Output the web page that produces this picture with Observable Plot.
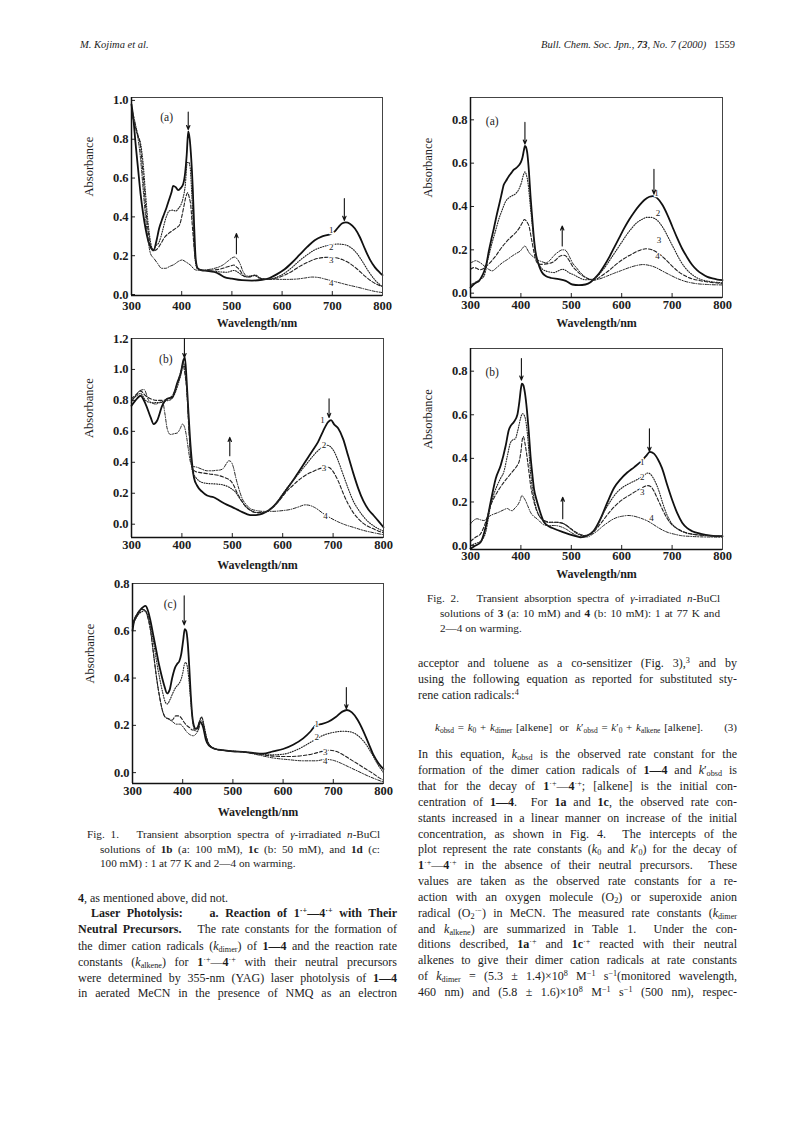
<!DOCTYPE html>
<html><head><meta charset="utf-8">
<script src="https://cdn.jsdelivr.net/npm/d3@7"></script>
<script src="https://cdn.jsdelivr.net/npm/@observablehq/plot@0.6"></script>
<style>
html,body{margin:0;padding:0;background:#fff;}
#page{position:relative;width:793px;height:1123px;overflow:hidden;font-family:"Liberation Serif","Times New Roman",serif;color:#1c1c1c;background:#fff;}
.panel{position:absolute;}
.ln{position:absolute;white-space:nowrap;font-size:12px;line-height:16px;}
.cap{font-size:11.2px;line-height:14px;}
.j{text-align:justify;text-align-last:justify;}
sub,sup{font-size:0.68em;line-height:0;}
sub{vertical-align:-0.3em}
sup{vertical-align:0.5em}
</style>
</head><body>
<div id="page">
<div class="ln" style="left:80px;top:37px;font-size:10.5px;font-style:italic">M. Kojima et al.</div>
<div class="ln" style="right:58px;top:37px;font-size:10.5px"><i>Bull. Chem. Soc. Jpn.</i>, <b><i>73</i></b>, <i>No. 7 (2000)</i>&nbsp;&nbsp;&nbsp;1559</div>

<div id="f1a" class="panel" style="left:60px;top:85px"></div>
<div id="f1b" class="panel" style="left:60px;top:325px"></div>
<div id="f1c" class="panel" style="left:60px;top:570px"></div>
<div id="f2a" class="panel" style="left:400px;top:85px"></div>
<div id="f2b" class="panel" style="left:400px;top:340px"></div>

<!-- Fig. 1 caption -->
<div class="ln cap j" style="left:87px;top:827px;width:293px">Fig. 1.&nbsp;&nbsp; Transient absorption spectra of <i>γ</i>-irradiated <i>n</i>-BuCl</div>
<div class="ln cap j" style="left:100px;top:842px;width:280px">solutions of <b>1b</b> (a: 100 mM), <b>1c</b> (b: 50 mM), and <b>1d</b> (c:</div>
<div class="ln cap" style="left:100px;top:856px">100 mM) : 1 at 77 K and 2—4 on warming.</div>

<!-- left column body -->
<div class="ln" style="left:78px;top:890px"><b>4</b>, as mentioned above, did not.</div>
<div class="ln j" style="left:91px;top:905px;width:306px"><b>Laser Photolysis:&nbsp;&nbsp;&nbsp; a. Reaction of 1<sup>·+</sup>—4<sup>·+</sup> with Their</b></div>
<div class="ln j" style="left:78px;top:921px;width:319px"><b>Neutral Precursors.</b>&nbsp;&nbsp; The rate constants for the formation of</div>
<div class="ln j" style="left:78px;top:938px;width:319px">the dimer cation radicals (<i>k</i><sub>dimer</sub>) of <b>1—4</b> and the reaction rate</div>
<div class="ln j" style="left:78px;top:954px;width:319px">constants (<i>k</i><sub>alkene</sub>) for <b>1</b><sup>·+</sup>—<b>4</b><sup>·+</sup> with their neutral precursors</div>
<div class="ln j" style="left:78px;top:970px;width:319px">were determined by 355-nm (YAG) laser photolysis of <b>1—4</b></div>
<div class="ln j" style="left:78px;top:985px;width:319px">in aerated MeCN in the presence of NMQ as an electron</div>

<!-- Fig. 2 caption -->
<div class="ln cap j" style="left:427px;top:591px;width:293px">Fig. 2.&nbsp;&nbsp; Transient absorption spectra of <i>γ</i>-irradiated <i>n</i>-BuCl</div>
<div class="ln cap j" style="left:440px;top:606px;width:280px">solutions of <b>3</b> (a: 10 mM) and <b>4</b> (b: 10 mM): 1 at 77 K and</div>
<div class="ln cap" style="left:440px;top:621px">2—4 on warming.</div>

<!-- right column body -->
<div class="ln j" style="left:418px;top:655px;width:319px">acceptor and toluene as a co-sensitizer (Fig. 3),<sup>3</sup> and by</div>
<div class="ln j" style="left:418px;top:671px;width:319px">using the following equation as reported for substituted sty-</div>
<div class="ln" style="left:418px;top:687px">rene cation radicals:<sup>4</sup></div>
<div class="ln j" style="left:435px;top:719px;width:268px;font-size:11px"><i>k</i><sub>obsd</sub> = <i>k</i><sub>0</sub> + <i>k</i><sub>dimer</sub> [alkene]&nbsp; or &nbsp;<i>k</i>′<sub>obsd</sub> = <i>k</i>′<sub>0</sub> + <i>k</i><sub>alkene</sub> [alkene].</div>
<div class="ln" style="right:56px;top:719px;font-size:11px">(3)</div>
<div class="ln j" style="left:418px;top:746px;width:319px">In this equation, <i>k</i><sub>obsd</sub> is the observed rate constant for the</div>
<div class="ln j" style="left:418px;top:762px;width:319px">formation of the dimer cation radicals of <b>1—4</b> and <i>k</i>′<sub>obsd</sub> is</div>
<div class="ln j" style="left:418px;top:778px;width:319px">that for the decay of <b>1</b><sup>·+</sup>—<b>4</b><sup>·+</sup>; [alkene] is the initial con-</div>
<div class="ln j" style="left:418px;top:794px;width:319px">centration of <b>1—4</b>.&nbsp; For <b>1a</b> and <b>1c</b>, the observed rate con-</div>
<div class="ln j" style="left:418px;top:810px;width:319px">stants increased in a linear manner on increase of the initial</div>
<div class="ln j" style="left:418px;top:826px;width:319px">concentration, as shown in Fig. 4.&nbsp; The intercepts of the</div>
<div class="ln j" style="left:418px;top:841px;width:319px">plot represent the rate constants (<i>k</i><sub>0</sub> and <i>k</i>′<sub>0</sub>) for the decay of</div>
<div class="ln j" style="left:418px;top:857px;width:319px"><b>1</b><sup>·+</sup>—<b>4</b><sup>·+</sup> in the absence of their neutral precursors.&nbsp; These</div>
<div class="ln j" style="left:418px;top:873px;width:319px">values are taken as the observed rate constants for a re-</div>
<div class="ln j" style="left:418px;top:889px;width:319px">action with an oxygen molecule (O<sub>2</sub>) or superoxide anion</div>
<div class="ln j" style="left:418px;top:905px;width:319px">radical (O<sub>2</sub><sup>·−</sup>) in MeCN. The measured rate constants (<i>k</i><sub>dimer</sub></div>
<div class="ln j" style="left:418px;top:921px;width:319px">and <i>k</i><sub>alkene</sub>) are summarized in Table 1.&nbsp; Under the con-</div>
<div class="ln j" style="left:418px;top:936px;width:319px">ditions described, <b>1a</b><sup>·+</sup> and <b>1c</b><sup>·+</sup> reacted with their neutral</div>
<div class="ln j" style="left:418px;top:952px;width:319px">alkenes to give their dimer cation radicals at rate constants</div>
<div class="ln j" style="left:418px;top:968px;width:319px">of <i>k</i><sub>dimer</sub> = (5.3 ± 1.4)×10<sup>8</sup> M<sup>−1</sup> s<sup>−1</sup>(monitored wavelength,</div>
<div class="ln j" style="left:418px;top:984px;width:319px">460 nm) and (5.8 ± 1.6)×10<sup>8</sup> M<sup>−1</sup> s<sup>−1</sup> (500 nm), respec-</div>
</div>

<script>
// ---------- shared ticks ----------
const xTicks = [300, 400, 500, 600, 700, 800];
const yTicks_f1a = [0, 0.2, 0.4, 0.6, 0.8, 1.0];
const yTicks_f1b = [0, 0.2, 0.4, 0.6, 0.8, 1.0, 1.2];
const yTicks_f1c = [0, 0.2, 0.4, 0.6, 0.8];
const yTicks_f2 = [0, 0.2, 0.4, 0.6, 0.8];

// ---------- Fig. 1(a) ----------
const f1a_1 = [[300,0.98],[304,0.9],[308,0.78],[313,0.65],[318,0.52],[323,0.42],[328,0.34],[333,0.28],[338,0.245],[344,0.228],[350,0.28],[355,0.34],[360,0.38],[365,0.415],[370,0.45],[375,0.49],[380,0.53],[383,0.56],[388,0.553],[393,0.538],[398,0.548],[403,0.57],[407,0.63],[410,0.72],[413,0.84],[416,0.8],[419,0.7],[422,0.55],[425,0.34],[428,0.18],[432,0.135],[440,0.125],[450,0.122],[465,0.116],[475,0.105],[485,0.09],[500,0.082],[520,0.074],[540,0.072],[560,0.075],[575,0.085],[590,0.105],[605,0.13],[620,0.165],[635,0.205],[650,0.245],[665,0.28],[680,0.3],[695,0.31],[705,0.325],[713,0.35],[720,0.367],[727,0.372],[735,0.365],[745,0.34],[755,0.295],[765,0.235],[775,0.18],[785,0.14],[795,0.112],[800,0.1]];
const f1a_2 = [[300,0.95],[306,0.88],[312,0.82],[318,0.78],[323,0.68],[328,0.52],[333,0.37],[338,0.27],[343,0.23],[348,0.25],[355,0.27],[362,0.33],[368,0.39],[375,0.43],[382,0.435],[388,0.43],[394,0.445],[398,0.46],[403,0.5],[407,0.56],[411,0.68],[414,0.68],[417,0.65],[420,0.52],[423,0.36],[426,0.2],[430,0.14],[435,0.128],[450,0.124],[470,0.118],[490,0.115],[504,0.124],[512,0.115],[520,0.1],[530,0.09],[545,0.1],[555,0.085],[570,0.078],[590,0.09],[605,0.11],[620,0.14],[635,0.175],[650,0.205],[665,0.23],[680,0.245],[695,0.255],[710,0.26],[722,0.258],[735,0.245],[748,0.215],[760,0.17],[772,0.12],[785,0.075],[800,0.04]];
const f1a_3 = [[300,0.94],[306,0.88],[312,0.83],[318,0.76],[323,0.62],[328,0.46],[333,0.33],[338,0.25],[343,0.225],[350,0.232],[358,0.26],[366,0.295],[374,0.315],[382,0.33],[390,0.345],[396,0.36],[400,0.4],[404,0.45],[408,0.5],[412,0.525],[415,0.5],[418,0.46],[421,0.36],[425,0.235],[429,0.15],[433,0.128],[445,0.124],[460,0.126],[475,0.13],[488,0.14],[498,0.148],[504,0.152],[510,0.14],[516,0.125],[524,0.095],[535,0.09],[545,0.098],[555,0.085],[570,0.08],[590,0.085],[605,0.1],[620,0.12],[635,0.145],[650,0.165],[665,0.182],[680,0.19],[692,0.192],[705,0.19],[720,0.18],[735,0.16],[750,0.13],[765,0.095],[780,0.065],[800,0.04]];
const f1a_4 = [[300,0.96],[306,0.9],[312,0.82],[318,0.7],[323,0.55],[328,0.4],[333,0.28],[338,0.21],[345,0.185],[352,0.16],[360,0.135],[368,0.135],[376,0.145],[385,0.155],[393,0.17],[401,0.178],[407,0.17],[413,0.16],[419,0.148],[425,0.13],[432,0.125],[445,0.126],[460,0.132],[472,0.14],[482,0.152],[492,0.172],[500,0.188],[505,0.193],[510,0.185],[516,0.16],[522,0.12],[530,0.095],[540,0.095],[548,0.1],[556,0.085],[570,0.078],[590,0.078],[610,0.078],[630,0.08],[645,0.085],[660,0.09],[672,0.088],[685,0.08],[700,0.07],[715,0.06],[730,0.05],[750,0.038],[770,0.025],[785,0.016],[800,0.01]];
const f1a_labels = [["1",698,0.331],["2",698,0.245],["3",698,0.177],["4",698,0.057]];
const f1a_arrows = [[413,0.94,0.85],[509,0.21,0.314],[724,0.494,0.382]];
const f1a_letter = ["(a)",370,0.915];

// ---------- Fig. 1(b) ----------
const f1b_1 = [[300,0.766],[308,0.8],[318,0.83],[328,0.776],[338,0.69],[344,0.647],[351,0.67],[361,0.766],[371,0.81],[381,0.82],[391,0.916],[398,0.98],[403,1.06],[406,1.077],[409,0.95],[412,0.78],[416,0.56],[420,0.4],[424,0.3],[430,0.25],[440,0.21],[450,0.185],[463,0.174],[472,0.158],[480,0.142],[490,0.125],[500,0.11],[510,0.094],[520,0.078],[530,0.064],[540,0.058],[550,0.06],[560,0.068],[570,0.085],[580,0.11],[590,0.145],[600,0.19],[610,0.235],[620,0.28],[630,0.33],[640,0.38],[650,0.43],[660,0.48],[670,0.53],[680,0.6],[690,0.66],[696,0.672],[702,0.645],[710,0.62],[720,0.55],[730,0.44],[740,0.33],[750,0.23],[760,0.15],[770,0.095],[780,0.058],[790,0.02],[800,-0.02]];
const f1b_2 = [[300,0.8],[310,0.83],[318,0.845],[328,0.8],[340,0.785],[354,0.787],[364,0.795],[374,0.8],[382,0.82],[388,0.86],[394,0.92],[399,0.98],[403,1.045],[406,1.0],[409,0.9],[412,0.75],[415,0.57],[418,0.42],[421,0.34],[428,0.3],[440,0.27],[455,0.262],[467,0.26],[480,0.255],[493,0.24],[500,0.225],[507,0.205],[514,0.17],[520,0.142],[530,0.105],[540,0.085],[550,0.075],[560,0.075],[570,0.085],[580,0.11],[590,0.15],[600,0.195],[610,0.24],[620,0.28],[630,0.32],[640,0.36],[650,0.4],[660,0.44],[670,0.475],[680,0.5],[688,0.51],[695,0.5],[702,0.47],[710,0.41],[720,0.32],[730,0.23],[740,0.15],[750,0.095],[760,0.05],[770,0.015],[780,-0.01],[790,-0.03],[800,-0.045]];
const f1b_3 = [[300,0.81],[310,0.84],[318,0.86],[328,0.83],[338,0.81],[351,0.8],[362,0.8],[371,0.81],[381,0.83],[388,0.88],[394,0.94],[399,1.0],[402,1.03],[406,0.97],[410,0.85],[414,0.6],[418,0.42],[421,0.36],[427,0.34],[434,0.335],[454,0.325],[474,0.314],[486,0.3],[493,0.29],[498,0.275],[503,0.25],[510,0.2],[517,0.16],[525,0.12],[536,0.088],[548,0.075],[560,0.075],[570,0.085],[580,0.105],[590,0.14],[600,0.18],[610,0.22],[620,0.25],[630,0.28],[640,0.305],[650,0.325],[660,0.34],[670,0.355],[680,0.365],[688,0.37],[695,0.36],[702,0.33],[710,0.28],[720,0.2],[730,0.13],[740,0.075],[750,0.035],[760,0.005],[770,-0.015],[780,-0.03],[790,-0.045],[800,-0.055]];
const f1b_4 = [[300,0.79],[308,0.83],[315,0.86],[325,0.87],[334,0.8],[340,0.785],[348,0.776],[356,0.785],[362,0.787],[366,0.72],[371,0.615],[377,0.58],[385,0.585],[391,0.59],[397,0.62],[401,0.647],[405,0.63],[409,0.57],[413,0.48],[417,0.4],[421,0.375],[430,0.368],[440,0.355],[450,0.345],[460,0.345],[468,0.348],[475,0.35],[482,0.36],[488,0.39],[493,0.41],[497,0.405],[502,0.37],[507,0.3],[512,0.24],[520,0.163],[528,0.125],[536,0.1],[548,0.088],[560,0.083],[580,0.083],[600,0.088],[615,0.095],[630,0.11],[645,0.125],[655,0.12],[665,0.105],[680,0.07],[695,0.04],[710,0.015],[725,-0.005],[740,-0.02],[760,-0.04],[780,-0.055],[800,-0.068]];
const f1b_labels = [["1",679,0.675],["2",682,0.51],["3",682,0.36],["4",685,0.055]];
const f1b_arrows = [[405,1.2,1.077],[495,0.443,0.561],[692,0.81,0.69]];
const f1b_letter = ["(b)",368,1.067];

// ---------- Fig. 1(c) ----------
const f1c_1 = [[300,0.6],[303,0.64],[306,0.656],[311,0.675],[316,0.69],[321,0.7],[326,0.705],[330,0.69],[335,0.65],[342,0.575],[348,0.51],[353,0.455],[358,0.41],[363,0.37],[369,0.335],[374,0.35],[379,0.4],[385,0.445],[389,0.46],[393,0.47],[397,0.5],[401,0.56],[404,0.607],[407,0.6],[410,0.55],[413,0.45],[416,0.33],[419,0.24],[422,0.2],[426,0.185],[430,0.19],[434,0.215],[437,0.21],[441,0.19],[446,0.14],[452,0.115],[465,0.1],[480,0.095],[500,0.09],[520,0.088],[540,0.083],[560,0.08],[580,0.09],[600,0.1],[620,0.118],[640,0.145],[655,0.175],[665,0.2],[675,0.205],[690,0.215],[705,0.235],[718,0.258],[727,0.265],[737,0.255],[748,0.225],[760,0.175],[770,0.125],[780,0.075],[790,0.04],[800,0.015]];
const f1c_2 = [[300,0.62],[306,0.65],[312,0.67],[318,0.68],[324,0.685],[330,0.67],[336,0.62],[342,0.55],[348,0.47],[354,0.4],[360,0.34],[365,0.3],[369,0.29],[375,0.31],[380,0.335],[386,0.36],[392,0.375],[396,0.39],[400,0.42],[403,0.455],[406,0.466],[409,0.45],[412,0.4],[415,0.33],[418,0.26],[421,0.2],[425,0.177],[429,0.175],[432,0.19],[435,0.225],[438,0.235],[442,0.205],[447,0.15],[452,0.12],[465,0.1],[490,0.092],[520,0.088],[550,0.08],[575,0.075],[600,0.078],[620,0.09],[640,0.11],[660,0.135],[680,0.158],[700,0.17],[720,0.175],[735,0.172],[750,0.155],[765,0.12],[778,0.075],[790,0.03],[800,0.0]];
const f1c_3 = [[300,0.63],[306,0.66],[312,0.68],[318,0.69],[324,0.69],[330,0.66],[336,0.6],[342,0.5],[348,0.4],[354,0.32],[360,0.26],[365,0.235],[372,0.228],[379,0.222],[386,0.24],[392,0.24],[397,0.232],[402,0.215],[408,0.2],[414,0.19],[420,0.18],[426,0.185],[431,0.2],[435,0.228],[438,0.233],[442,0.2],[447,0.15],[452,0.12],[465,0.1],[490,0.092],[520,0.088],[550,0.078],[580,0.07],[610,0.068],[640,0.072],[660,0.08],[678,0.09],[692,0.095],[705,0.09],[720,0.075],[735,0.055],[750,0.035],[765,0.015],[780,-0.005],[790,-0.02],[800,-0.032]];
const f1c_4 = [[300,0.62],[306,0.65],[312,0.67],[318,0.69],[324,0.685],[330,0.66],[336,0.6],[342,0.5],[348,0.4],[354,0.32],[360,0.26],[365,0.235],[372,0.226],[380,0.215],[387,0.205],[395,0.205],[402,0.19],[409,0.17],[415,0.16],[421,0.156],[427,0.165],[432,0.185],[436,0.22],[439,0.215],[443,0.19],[448,0.145],[453,0.12],[465,0.1],[490,0.092],[520,0.088],[550,0.075],[580,0.062],[610,0.055],[640,0.05],[665,0.05],[685,0.056],[700,0.052],[715,0.04],[730,0.025],[750,0.005],[770,-0.015],[785,-0.028],[800,-0.04]];
const f1c_labels = [["1",667,0.205],["2",667,0.15],["3",684,0.085],["4",684,0.048]];
const f1c_arrows = [[403,0.748,0.625],[726,0.36,0.27]];
const f1c_letter = ["(c)",375,0.713];

// ---------- Fig. 2(a) ----------
const f2a_1 = [[300,0.026],[306,0.04],[312,0.05],[317,0.057],[322,0.075],[327,0.1],[332,0.14],[336,0.19],[341,0.245],[346,0.295],[351,0.35],[356,0.4],[361,0.45],[366,0.5],[371,0.52],[376,0.54],[381,0.555],[386,0.57],[391,0.578],[396,0.59],[400,0.605],[403,0.625],[406,0.66],[408,0.68],[410,0.675],[413,0.64],[416,0.56],[419,0.45],[422,0.36],[426,0.25],[429,0.19],[432,0.157],[437,0.12],[442,0.095],[450,0.078],[460,0.07],[475,0.065],[489,0.057],[502,0.04],[515,0.037],[528,0.04],[538,0.05],[545,0.065],[555,0.09],[565,0.125],[575,0.165],[585,0.21],[595,0.255],[605,0.3],[615,0.34],[625,0.375],[635,0.405],[645,0.43],[655,0.445],[662,0.448],[670,0.44],[680,0.41],[690,0.365],[700,0.31],[710,0.255],[720,0.205],[730,0.165],[740,0.13],[750,0.105],[760,0.088],[770,0.075],[780,0.068],[790,0.063],[800,0.06]];
const f2a_2 = [[300,0.04],[310,0.05],[320,0.065],[327,0.08],[335,0.16],[343,0.234],[350,0.29],[356,0.34],[363,0.385],[369,0.42],[376,0.44],[383,0.45],[390,0.46],[396,0.48],[401,0.51],[405,0.545],[408,0.56],[411,0.545],[414,0.51],[418,0.42],[422,0.326],[426,0.24],[429,0.188],[436,0.134],[443,0.11],[449,0.103],[458,0.097],[466,0.095],[474,0.103],[482,0.11],[489,0.105],[495,0.095],[505,0.085],[515,0.072],[528,0.062],[542,0.065],[550,0.075],[560,0.1],[570,0.13],[580,0.165],[590,0.2],[600,0.235],[610,0.27],[620,0.3],[630,0.325],[640,0.34],[650,0.35],[658,0.35],[665,0.345],[675,0.325],[685,0.29],[695,0.245],[705,0.2],[715,0.155],[725,0.12],[735,0.095],[750,0.07],[765,0.058],[780,0.052],[800,0.048]];
const f2a_3 = [[300,0.11],[306,0.118],[312,0.115],[318,0.108],[323,0.11],[330,0.122],[336,0.134],[343,0.152],[350,0.172],[360,0.205],[370,0.234],[380,0.258],[390,0.28],[398,0.305],[403,0.326],[407,0.34],[410,0.335],[413,0.325],[416,0.31],[421,0.25],[426,0.188],[432,0.141],[440,0.133],[446,0.134],[455,0.137],[462,0.141],[470,0.155],[478,0.172],[485,0.175],[490,0.17],[496,0.15],[502,0.126],[510,0.105],[518,0.088],[530,0.07],[542,0.06],[550,0.065],[560,0.08],[575,0.105],[590,0.135],[605,0.16],[620,0.18],[635,0.197],[648,0.205],[660,0.2],[672,0.185],[685,0.16],[700,0.125],[715,0.095],[730,0.075],[750,0.06],[770,0.052],[785,0.048],[800,0.045]];
const f2a_4 = [[300,0.14],[305,0.145],[310,0.15],[316,0.145],[323,0.134],[330,0.12],[336,0.11],[343,0.103],[352,0.118],[363,0.14],[373,0.155],[383,0.172],[392,0.185],[399,0.195],[404,0.21],[408,0.218],[412,0.205],[416,0.188],[421,0.175],[426,0.165],[436,0.15],[442,0.145],[449,0.14],[456,0.148],[465,0.172],[474,0.19],[482,0.2],[487,0.2],[492,0.188],[497,0.165],[502,0.141],[510,0.118],[518,0.095],[526,0.078],[535,0.065],[545,0.06],[555,0.065],[570,0.078],[585,0.092],[600,0.105],[615,0.118],[630,0.128],[642,0.132],[655,0.128],[668,0.118],[680,0.103],[695,0.085],[710,0.068],[725,0.055],[745,0.045],[770,0.04],[800,0.038]];
const f2a_labels = [["1",669,0.462],["2",672,0.369],["3",674,0.245],["4",671,0.172]];
const f2a_arrows = [[408,0.788,0.688],[482,0.218,0.31],[664,0.572,0.457]];
const f2a_letter = ["(a)",343,0.795];

// ---------- Fig. 2(b) ----------
const f2b_1 = [[300,-0.015],[310,0],[320,0.015],[330,0.084],[340,0.2],[350,0.307],[360,0.368],[370,0.46],[376,0.53],[380,0.55],[386,0.567],[393,0.6],[397,0.66],[400,0.72],[402,0.743],[405,0.735],[408,0.7],[412,0.62],[416,0.51],[419,0.414],[423,0.32],[426,0.26],[431,0.21],[436,0.17],[446,0.107],[456,0.088],[466,0.077],[485,0.061],[505,0.046],[518,0.038],[532,0.046],[545,0.069],[558,0.123],[572,0.2],[585,0.265],[598,0.305],[611,0.335],[625,0.36],[638,0.385],[648,0.41],[656,0.43],[664,0.422],[672,0.395],[680,0.355],[690,0.28],[700,0.21],[710,0.15],[720,0.105],[730,0.08],[740,0.066],[757,0.054],[777,0.046],[800,0.043]];
const f2b_2 = [[300,0.0],[310,0.01],[320,0.02],[330,0.06],[340,0.184],[347,0.24],[353,0.276],[360,0.31],[366,0.337],[373,0.41],[379,0.47],[384,0.485],[389,0.49],[393,0.52],[396,0.55],[400,0.59],[403,0.605],[406,0.6],[409,0.58],[413,0.51],[416,0.43],[419,0.34],[423,0.26],[428,0.195],[433,0.153],[440,0.125],[446,0.11],[456,0.107],[466,0.107],[476,0.105],[485,0.1],[492,0.09],[499,0.077],[512,0.054],[525,0.046],[538,0.055],[552,0.095],[565,0.155],[578,0.205],[591,0.245],[605,0.272],[618,0.288],[631,0.303],[644,0.322],[652,0.333],[658,0.325],[665,0.3],[674,0.25],[682,0.19],[690,0.14],[698,0.105],[706,0.085],[715,0.07],[725,0.06],[740,0.052],[760,0.047],[780,0.044],[800,0.042]];
const f2b_3 = [[300,0.02],[310,0.038],[320,0.054],[330,0.107],[340,0.184],[347,0.22],[353,0.245],[360,0.27],[366,0.29],[373,0.31],[380,0.33],[387,0.35],[393,0.368],[397,0.39],[400,0.43],[403,0.49],[405,0.5],[408,0.47],[412,0.41],[416,0.337],[419,0.28],[423,0.23],[429,0.175],[436,0.138],[446,0.115],[459,0.107],[472,0.107],[485,0.1],[499,0.077],[515,0.054],[528,0.046],[542,0.058],[558,0.1],[578,0.16],[598,0.205],[618,0.235],[638,0.262],[652,0.275],[658,0.27],[664,0.25],[672,0.21],[680,0.17],[690,0.125],[700,0.095],[711,0.077],[724,0.062],[737,0.054],[760,0.048],[780,0.045],[800,0.043]];
const f2b_4 = [[300,0.1],[306,0.115],[313,0.123],[320,0.118],[327,0.115],[334,0.128],[340,0.138],[348,0.146],[356,0.153],[365,0.163],[373,0.17],[378,0.163],[383,0.16],[388,0.172],[393,0.184],[398,0.205],[402,0.23],[405,0.222],[409,0.207],[414,0.18],[419,0.153],[425,0.135],[432,0.123],[440,0.105],[446,0.095],[456,0.092],[466,0.092],[474,0.09],[482,0.084],[490,0.075],[499,0.061],[509,0.048],[519,0.04],[532,0.04],[542,0.052],[552,0.068],[562,0.088],[572,0.105],[582,0.12],[592,0.13],[602,0.135],[612,0.138],[622,0.136],[632,0.13],[642,0.122],[652,0.112],[662,0.098],[672,0.083],[682,0.07],[692,0.06],[705,0.052],[717,0.046],[737,0.042],[757,0.04],[780,0.039],[800,0.038]];
const f2b_labels = [["1",641,0.385],["2",641,0.314],["3",641,0.245],["4",659,0.126]];
const f2b_arrows = [[401,0.858,0.759],[483,0.123,0.222],[655,0.536,0.432]];
const f2b_letter = ["(b)",343,0.797];

// ---------- drawing ----------
const lineStyles = [
  {stroke: "#111", strokeWidth: 1.8},
  {stroke: "#222", strokeWidth: 1.1, strokeDasharray: "1,1.5"},
  {stroke: "#222", strokeWidth: 1.1, strokeDasharray: "3.5,2"},
  {stroke: "#222", strokeWidth: 1.0, strokeDasharray: "3,1.5,1,1.5"}
];

function makePanel(el, p) {
  const [y0, y1] = p.yDomain;
  const chart = Plot.plot({
    width: p.width, height: p.height,
    marginLeft: p.m[0], marginRight: p.m[1], marginTop: p.m[2], marginBottom: p.m[3],
    style: {fontFamily: '"Liberation Serif", serif', fontSize: "12.5px", fontWeight: "bold", background: "transparent", color: "#1c1c1c"},
    x: {domain: [300, 800], ticks: xTicks, tickSize: 0, tickPadding: p.xPad, label: null, tickFormat: d3.format("d")},
    y: {domain: p.yDomain, ticks: p.yTicks, tickSize: 0, tickPadding: 3, label: null, tickFormat: d3.format(".1f")},
    marks: [
      Plot.ruleY(p.yTicks, {y: d => d, x1: 300, x2: 308, stroke: "#222", strokeWidth: 1}),
      Plot.ruleX(xTicks, {x: d => d, y1: y0, y2: y0 + (y1 - y0) * 0.02, stroke: "#222", strokeWidth: 1}),
      ...p.series.map((s, i) => Plot.line(s, {x: d => d[0], y: d => d[1], curve: "monotone-x", ...lineStyles[i]})),
      Plot.frame({stroke: "#444", strokeWidth: 1}),
      Plot.ruleX([300], {stroke: "#111", strokeWidth: 1.5}),
      Plot.ruleY([y0], {stroke: "#111", strokeWidth: 1.5}),
      Plot.text(p.labels, {x: d => d[1], y: d => d[2], text: d => d[0], fontSize: 9, fontWeight: "normal", fill: "#222", stroke: "white", strokeWidth: 2.5, paintOrder: "stroke"}),
      Plot.arrow(p.arrows, {x1: d => d[0], x2: d => d[0], y1: d => d[1], y2: d => d[2], stroke: "#111", strokeWidth: 1.1, headLength: 6, headAngle: 45}),
      Plot.text([p.letter], {x: d => d[1], y: d => d[2], text: d => d[0], fontSize: 11.5, fontWeight: "normal"}),
      Plot.text(["Absorbance"], {frameAnchor: "left", rotate: -90, dx: -43, text: d => d, fontSize: 12.5, fontWeight: "normal"}),
      Plot.text(["Wavelength/nm"], {frameAnchor: "bottom", dy: p.xlabDy, text: d => d, fontSize: 12, fontWeight: "bold"})
    ]
  });
  document.getElementById(el).appendChild(chart);
}

makePanel("f1a", {width: 340, height: 250, m: [71, 18, 12, 40], yDomain: [-0.005, 1.015], yTicks: yTicks_f1a, xPad: 6,
  series: [f1a_1, f1a_2, f1a_3, f1a_4], labels: f1a_labels, arrows: f1a_arrows, letter: f1a_letter, xlabDy: 31});
makePanel("f1b", {width: 340, height: 250, m: [71, 17, 13, 38], yDomain: [-0.086, 1.2], yTicks: yTicks_f1b, xPad: 3,
  series: [f1b_1, f1b_2, f1b_3, f1b_4], labels: f1b_labels, arrows: f1b_arrows, letter: f1b_letter, xlabDy: 31});
makePanel("f1c", {width: 340, height: 250, m: [72, 17, 13, 37], yDomain: [-0.046, 0.8], yTicks: yTicks_f1c, xPad: 3,
  series: [f1c_1, f1c_2, f1c_3, f1c_4], labels: f1c_labels, arrows: f1c_arrows, letter: f1c_letter, xlabDy: 32});
makePanel("f2a", {width: 340, height: 250, m: [70, 18, 12, 38], yDomain: [-0.02, 0.903], yTicks: yTicks_f2, xPad: 3,
  series: [f2a_1, f2a_2, f2a_3, f2a_4], labels: f2a_labels, arrows: f2a_arrows, letter: f2a_letter, xlabDy: 29});
makePanel("f2b", {width: 340, height: 250, m: [70, 18, 8, 41], yDomain: [-0.018, 0.904], yTicks: yTicks_f2, xPad: 2,
  series: [f2b_1, f2b_2, f2b_3, f2b_4], labels: f2b_labels, arrows: f2b_arrows, letter: f2b_letter, xlabDy: 28});

// fit justified lines that are naturally wider than their column
document.querySelectorAll(".j").forEach(el => {
  const w = el.clientWidth, sw = el.scrollWidth;
  if (sw > w) {
    const n = el.textContent.length;
    el.style.letterSpacing = (-(sw - w + 1) / n).toFixed(3) + "px";
  }
});
</script>
</body></html>
